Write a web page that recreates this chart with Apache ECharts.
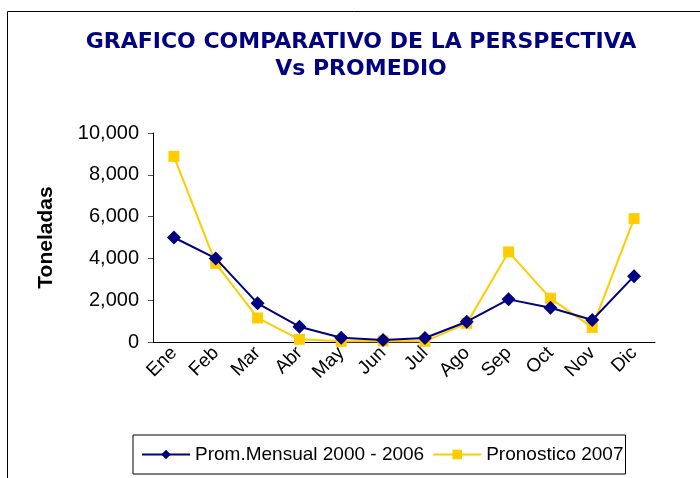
<!DOCTYPE html>
<html>
<head>
	<meta charset="utf-8">
	<title></title>
	<script src="https://cdn.jsdelivr.net/npm/echarts@6/dist/echarts.min.js"></script>
</head>
<body style="margin:0;background:#fff;">
	<div id="main" style="width:700px;height:478px;"></div>
	<script type="text/javascript">
		var meses = ['Ene','Feb','Mar','Abr','May','Jun','Jul','Ago','Sep','Oct','Nov','Dic'];
		var promedio = [5000, 4000, 1850, 730, 200, 100, 190, 970, 2040, 1640, 1050, 3150];
		var pronostico = [8880, 3760, 1150, 130, 30, 50, 30, 890, 4310, 2090, 700, 5900];

		var myChart = echarts.init(document.getElementById('main'));

		var option = {
			backgroundColor: '#fff',
			animation: false,
			graphic: [{
				type: 'rect',
				shape: { x: 7.5, y: 11.5, width: 720, height: 500 },
				style: { fill: 'none', stroke: '#000', lineWidth: 1 }
			}],
			title: {
				text: 'GRAFICO COMPARATIVO DE LA PERSPECTIVA\nVs PROMEDIO',
				left: 356,
				top: 24,
				textAlign: 'center',
				textStyle: {
					color: '#000080',
					fontFamily: 'DejaVu Sans',
					fontWeight: 'bold',
					fontSize: 22,
					lineHeight: 27
				}
			},
			legend: {
				left: 133,
				top: 435,
				padding: [10, 2, 10, 8],
				borderColor: '#000',
				borderWidth: 1,
				borderRadius: 0,
				itemWidth: 48,
				itemHeight: 12,
				itemGap: 8,
				textStyle: { fontFamily: 'Liberation Sans', fontSize: 19, color: '#000' },
				data: ['Prom.Mensual 2000 - 2006', 'Pronostico 2007']
			},
			grid: { left: 153, right: 45, top: 133, bottom: 136 },
			xAxis: {
				type: 'category',
				data: meses,
				boundaryGap: true,
				axisLine: { lineStyle: { color: '#000', width: 1 } },
				axisTick: { alignWithLabel: false, length: 5, lineStyle: { color: '#555' } },
				axisLabel: {
					rotate: 45,
					color: '#000',
					fontFamily: 'Liberation Sans',
					fontSize: 19,
					margin: 8
				}
			},
			yAxis: {
				type: 'value',
				min: 0,
				max: 10000,
				interval: 2000,
				name: 'Toneladas',
				nameLocation: 'middle',
				nameGap: 96,
				nameTextStyle: { fontFamily: 'Liberation Sans', fontWeight: 'bold', fontSize: 21, color: '#000' },
				splitLine: { show: false },
				axisLine: { show: true, lineStyle: { color: '#000', width: 1 } },
				axisTick: { show: true, length: 5, lineStyle: { color: '#555' } },
				axisLabel: {
					color: '#000',
					fontFamily: 'Liberation Sans',
					fontSize: 20,
					margin: 14,
					formatter: function (v) { return v.toLocaleString('en-US'); }
				}
			},
			series: [
				{
					name: 'Prom.Mensual 2000 - 2006',
					type: 'line',
					data: promedio,
					symbol: 'diamond',
					symbolSize: 14,
					lineStyle: { color: '#000080', width: 2 },
					itemStyle: { color: '#000080' },
					z: 3
				},
				{
					name: 'Pronostico 2007',
					type: 'line',
					data: pronostico,
					symbol: 'rect',
					symbolSize: 11,
					lineStyle: { color: '#FFCC00', width: 2 },
					itemStyle: { color: '#FFCC00' },
					z: 2
				}
			]
		};

		myChart.setOption(option);
	</script>
</body>
</html>
